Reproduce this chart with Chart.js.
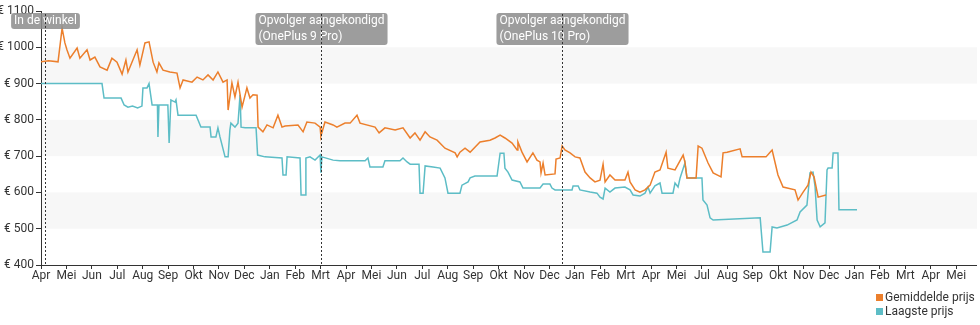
<!DOCTYPE html>
<html>
<head>
<meta charset="utf-8">
<script src="https://cdn.jsdelivr.net/npm/chart.js@4"></script>
<style>
  body { margin: 0; background: #fff; font-family: Roboto, sans-serif; }
  #wrap { position: relative; width: 980px; height: 325px; }
  #legend { position: absolute; left: 876px; top: 290px; font-size: 12px; color: #333; line-height: 14px; }
  #legend span.sq { display: inline-block; width: 7px; height: 7px; margin-right: 2px; }
</style>
</head>
<body>
<div id="wrap">
  <canvas id="priceChart" width="980" height="325"></canvas>
  <div id="legend"></div>
</div>
<script>
// x-axis: one tick per month (the reference skips Jun 2022)
const tickLabels = ['Apr','Mei','Jun','Jul','Aug','Sep','Okt','Nov','Dec','Jan','Feb','Mrt',
    'Apr','Mei','Jun','Jul','Aug','Sep','Okt','Nov','Dec','Jan','Feb','Mrt',
    'Apr','Mei','Jul','Aug','Sep','Okt','Nov','Dec','Jan','Feb','Mrt','Apr','Mei'];

const seriesNames = ['Gemiddelde prijs', 'Laagste prijs'];

// Gemiddelde prijs (position in months, price in euro)
const avgMonth = [0, 0.3, 0.67, 0.83, 0.94, 1.02, 1.14, 1.42, 1.53, 1.81, 1.93, 2.12, 2.32, 2.6, 2.79, 2.99,
    3.19, 3.34, 3.42, 3.78, 3.89, 4.09, 4.25, 4.41, 4.56, 4.64, 4.8, 5.07, 5.35, 5.47, 5.59, 5.94,
    6.14, 6.37, 6.57, 6.77, 6.96, 7.16, 7.32, 7.36, 7.51, 7.63, 7.75, 7.91, 8.1, 8.22, 8.34, 8.5,
    8.54, 8.73, 8.89, 9.13, 9.32, 9.48, 9.6, 10.11, 10.31, 10.46, 10.78, 10.98, 11.01, 11.17, 11.49,
    11.64, 11.96, 12.16, 12.43, 12.55, 13.14, 13.3, 13.53, 13.93, 14.24, 14.52, 14.71, 14.91, 15.11,
    15.3, 15.58, 15.89, 16.29, 16.37, 16.48, 16.68, 16.88, 17.27, 17.66, 17.86, 18.06, 18.25, 18.53,
    18.73, 18.76, 18.92, 19.12, 19.35, 19.51, 19.63, 19.67, 19.75, 19.83, 20.22, 20.26, 20.42, 20.5,
    20.61, 20.81, 21.01, 21.2, 21.4, 21.6, 21.79, 21.99, 22.11, 22.19, 22.38, 22.58, 22.97, 23.09,
    23.17, 23.37, 23.56, 23.76, 23.96, 24.15, 24.35, 24.59, 24.66, 24.94, 25.26, 25.33, 25.41, 25.77,
    25.85, 26.0, 26.24, 26.44, 26.75, 26.83, 26.99, 27.5, 27.58, 28.52, 28.68, 28.76, 28.88, 28.99,
    29.19, 29.66, 29.78, 29.98, 30.17, 30.29, 30.41, 30.57, 30.88];
const avgPrice = [960, 963, 960, 1053, 1012, 993, 970, 998, 970, 993, 965, 973, 946, 937, 970, 959,
    926, 965, 932, 993, 951, 1012, 1015, 959, 932, 957, 937, 932, 929, 888, 910, 904,
    918, 910, 924, 910, 932, 904, 910, 827, 902, 863, 904, 835, 888, 860, 869, 868,
    780, 767, 786, 778, 813, 780, 783, 786, 767, 794, 791, 780, 755, 794, 786,
    780, 791, 791, 813, 791, 780, 764, 778, 772, 778, 750, 764, 744, 767,
    753, 744, 722, 709, 698, 711, 722, 711, 739, 744, 750, 758, 750, 736,
    717, 739, 711, 684, 709, 689, 684, 654, 681, 648, 651, 692, 695, 728,
    717, 709, 698, 695, 656, 640, 629, 634, 678, 629, 648, 634, 634, 656,
    629, 607, 601, 607, 620, 656, 662, 711, 667, 662, 703, 684, 640, 640,
    728, 722, 681, 654, 643, 709, 711, 720, 698, 698, 711, 717, 681, 648,
    615, 607, 579, 601, 620, 656, 643, 587, 593];

// Laagste prijs
const lowMonth = [0, 2.4, 2.48, 3.15, 3.27, 3.42, 3.6, 3.8, 3.97, 4.01, 4.17, 4.25, 4.37, 4.58, 4.6, 4.64,
    4.99, 5.04, 5.11, 5.27, 5.31, 5.39, 6.1, 6.29, 6.65, 6.69, 6.88, 6.96, 7.04, 7.24, 7.36, 7.43,
    7.47, 7.63, 7.75, 7.83, 7.87, 8.03, 8.46, 8.52, 8.81, 9.48, 9.52, 9.64, 9.68, 10.19, 10.23, 10.39,
    10.42, 10.58, 10.78, 10.98, 11.01, 11.05, 11.49, 11.76, 12.75, 12.86, 12.94, 13.45, 13.53, 14.12,
    14.24, 14.4, 14.52, 14.87, 14.91, 15.03, 15.11, 15.42, 15.7, 15.89, 16.01, 16.48, 16.56, 16.8,
    16.88, 17.07, 17.94, 18.06, 18.21, 18.25, 18.37, 18.53, 18.84, 18.96, 19.63, 19.75, 20.02, 20.1,
    20.22, 20.89, 20.93, 21.13, 21.2, 21.6, 21.87, 21.99, 22.11, 22.19, 22.38, 22.58, 22.97, 23.17,
    23.29, 23.56, 23.76, 23.88, 23.96, 24.15, 24.35, 24.43, 24.86, 24.94, 25.06, 25.14, 25.33, 25.41,
    26.0, 26.04, 26.2, 26.32, 26.44, 28.29, 28.4, 28.68, 28.76, 28.95, 29.35, 29.74, 29.86, 30.13,
    30.25, 30.37, 30.45, 30.53, 30.65, 30.84, 30.92, 30.96, 31.12, 31.16, 31.35, 31.39, 32.1];
const lowPrice = [900, 900, 860, 860, 841, 835, 838, 833, 838, 888, 888, 900, 841, 841, 753, 841,
    841, 736, 855, 849, 855, 813, 813, 780, 780, 753, 753, 778, 753, 698, 698, 772,
    791, 780, 791, 869, 780, 778, 778, 703, 698, 695, 648, 648, 698, 695, 593, 593,
    695, 698, 689, 703, 654, 698, 689, 687, 687, 695, 670, 670, 687, 687,
    695, 684, 678, 678, 598, 598, 673, 670, 667, 640, 598, 598, 620, 629,
    640, 645, 645, 708, 708, 667, 656, 634, 629, 612, 612, 623, 623, 612,
    607, 607, 618, 618, 607, 601, 598, 587, 582, 612, 601, 612, 615, 607,
    593, 590, 598, 615, 598, 618, 626, 598, 598, 626, 615, 640, 681, 640,
    640, 579, 565, 530, 524, 530, 436, 436, 505, 502, 510, 524, 546, 565,
    654, 656, 615, 524, 505, 516, 662, 667, 667, 709, 709, 552, 552];

// marked events
const eventMonth = [0.16, 11.01, 20.5];
const eventLabels = [['In de winkel'], ['Opvolger aangekondigd', '(OnePlus 9 Pro)'], ['Opvolger aangekondigd', '(OnePlus 10 Pro)']];

const bandRanges = [[900, 1000], [700, 800], [500, 600]];
const colors = ['#ec7f2c', '#5dbdc6'];

Chart.defaults.font.family = 'Roboto, sans-serif';
Chart.defaults.font.size = 12;
Chart.defaults.color = '#333';

const bandsPlugin = {
    id: 'bands',
    beforeDatasetsDraw(chart) {
        const ctx = chart.ctx, area = chart.chartArea, y = chart.scales.y;
        ctx.save();
        ctx.fillStyle = '#f7f7f7';
        bandRanges.forEach(function(b) {
            const top = y.getPixelForValue(b[1]);
            const bottom = y.getPixelForValue(b[0]);
            ctx.fillRect(area.left + 1, top, area.right - area.left, bottom - top);
        });
        ctx.restore();
    }
};

const eventsPlugin = {
    id: 'events',
    afterDatasetsDraw(chart) {
        const ctx = chart.ctx, area = chart.chartArea, x = chart.scales.x;
        ctx.save();
        ctx.font = '12px Roboto, sans-serif';
        eventMonth.forEach(function(m, i) {
            const px = Math.round(x.getPixelForValue(m)) + 0.5;
            const lines = eventLabels[i];
            const w = Math.max.apply(null, lines.map(l => ctx.measureText(l).width)) + 6;
            const h = lines.length * 16;
            const bx = px - w / 2, by = 13;
            ctx.fillStyle = 'rgba(140,140,140,0.85)';
            ctx.beginPath();
            ctx.roundRect(bx, by, w, h, 3);
            ctx.fill();
            ctx.fillStyle = '#fff';
            ctx.textBaseline = 'middle';
            lines.forEach(function(l, j) {
                ctx.fillText(l, bx + 3, by + 8 + j * 16);
            });
            ctx.strokeStyle = '#333';
            ctx.lineWidth = 1;
            ctx.setLineDash([2, 2]);
            ctx.beginPath();
            ctx.moveTo(px, area.top + 3);
            ctx.lineTo(px, area.bottom);
            ctx.stroke();
            ctx.setLineDash([]);
        });
        ctx.restore();
    }
};

new Chart(document.getElementById('priceChart'), {
    type: 'line',
    data: {
        datasets: [{
            label: seriesNames[0],
            data: avgMonth.map((m, i) => ({x: m, y: avgPrice[i]})),
            borderColor: colors[0],
            backgroundColor: colors[0],
            borderWidth: 1.5,
            pointRadius: 0,
            tension: 0
        }, {
            label: seriesNames[1],
            data: lowMonth.map((m, i) => ({x: m, y: lowPrice[i]})),
            borderColor: colors[1],
            backgroundColor: colors[1],
            borderWidth: 1.5,
            pointRadius: 0,
            tension: 0
        }]
    },
    options: {
        responsive: false,
        animation: false,
        layout: { padding: { top: 11, right: 4, left: 0, bottom: 0 } },
        plugins: {
            legend: { display: false },
            tooltip: { enabled: false }
        },
        scales: {
            x: {
                type: 'linear',
                min: 0,
                max: 36.78,
                afterBuildTicks: function(scale) {
                    scale.ticks = tickLabels.map((_, i) => ({ value: i }));
                },
                afterFit: function(scale) { scale.height = 60; },
                ticks: {
                    autoSkip: false,
                    maxRotation: 0,
                    padding: 0,
                    color: '#333',
                    callback: function(value) { return tickLabels[value]; }
                },
                grid: { drawOnChartArea: false, tickLength: 4, color: '#333' },
                border: { color: '#333', width: 1 }
            },
            y: {
                min: 400,
                max: 1100,
                afterFit: function(scale) { scale.width = 41; },
                ticks: {
                    stepSize: 100,
                    padding: 2,
                    color: '#333',
                    callback: function(value) { return '€ ' + value; }
                },
                grid: { drawOnChartArea: false, tickLength: 5, color: '#333' },
                border: { color: '#333', width: 1 }
            }
        }
    },
    plugins: [bandsPlugin, eventsPlugin]
});

// legend drawn as html, stacked like the reference
const legend = document.getElementById('legend');
seriesNames.forEach(function(name, i) {
    const row = document.createElement('div');
    row.innerHTML = '<span class="sq" style="background:' + colors[i] + '"></span>' + name;
    legend.appendChild(row);
});
</script>
</body>
</html>
